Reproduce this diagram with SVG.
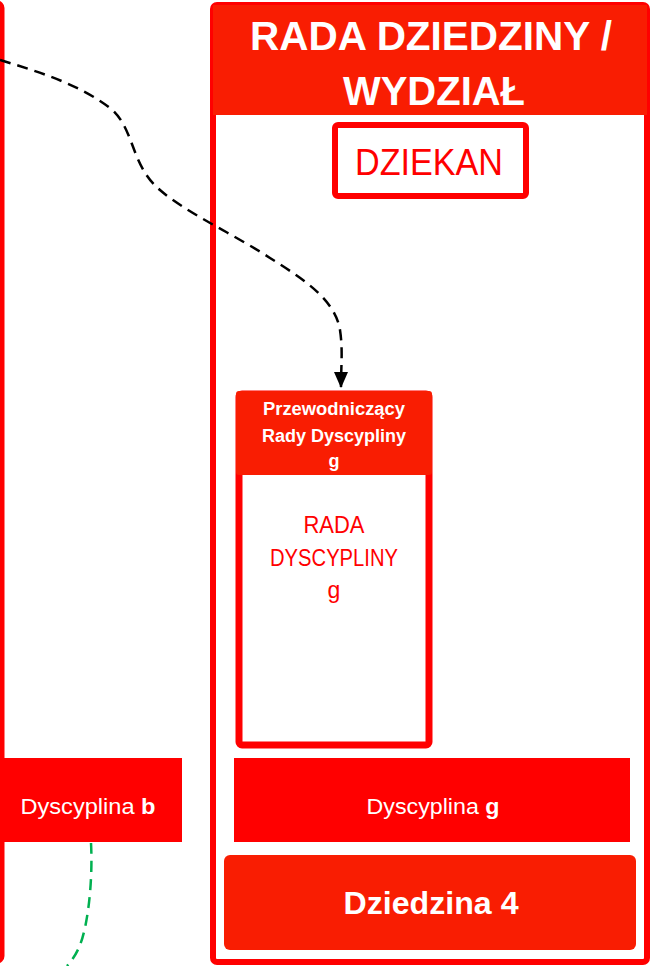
<svg xmlns="http://www.w3.org/2000/svg" width="653" height="966" viewBox="0 0 653 966">
<style>
text{font-family:"Liberation Sans",Arial,sans-serif;text-anchor:middle}
.w{fill:#fff}
.r{fill:#ff0000}
.b{font-weight:bold}
</style>
<defs>
<marker id="ah" markerWidth="16" markerHeight="14" refX="15" refY="7" orient="auto" markerUnits="userSpaceOnUse">
<path d="M0,0 L16,7 L0,14 z" fill="#000"/>
</marker>
</defs>
<rect width="653" height="966" fill="#fff"/>
<g id="left-container">
<rect x="-200" y="3" width="202" height="958" rx="5" fill="none" stroke="#ff0000" stroke-width="5"/>
</g>
<g id="dyscyplina-b">
<rect x="0" y="758" width="182" height="84" fill="#ff0000"/>
<text x="88" y="814" font-size="22" class="w" textLength="135" lengthAdjust="spacingAndGlyphs">Dyscyplina <tspan class="b">b</tspan></text>
</g>
<g id="rada-dziedziny">
<rect x="213" y="5" width="434" height="957" rx="4" fill="#fff" stroke="#ff0000" stroke-width="6"/>
<rect x="213" y="5" width="434" height="110" fill="#f91d02"/>
<text x="431" y="50" font-size="41" class="w b" textLength="362" lengthAdjust="spacingAndGlyphs">RADA DZIEDZINY /</text>
<text x="434" y="105" font-size="41" class="w b" textLength="182" lengthAdjust="spacingAndGlyphs">WYDZIAŁ</text>
</g>
<g id="dziekan">
<rect x="335" y="125" width="191" height="71" rx="3" fill="#fff" stroke="#ff0000" stroke-width="6"/>
<text x="429" y="175" font-size="37" class="r" textLength="148" lengthAdjust="spacingAndGlyphs">DZIEKAN</text>
</g>
<g id="rada-dyscypliny-g">
<rect x="239" y="394" width="190" height="351" rx="3" fill="#fff" stroke="#ff0000" stroke-width="7"/>
<rect x="236" y="391" width="196" height="84" rx="3" fill="#f91d02"/>
<text x="334" y="415" font-size="18" class="w b" textLength="142" lengthAdjust="spacingAndGlyphs">Przewodniczący</text>
<text x="334" y="442" font-size="18" class="w b" textLength="144" lengthAdjust="spacingAndGlyphs">Rady Dyscypliny</text>
<text x="334" y="467" font-size="18" class="w b">g</text>
<text x="334" y="533" font-size="23" class="r" textLength="61" lengthAdjust="spacingAndGlyphs">RADA</text>
<text x="334" y="566" font-size="23" class="r" textLength="128" lengthAdjust="spacingAndGlyphs">DYSCYPLINY</text>
<text x="334" y="598" font-size="23" class="r">g</text>
</g>
<g id="dyscyplina-g">
<rect x="234" y="758" width="396" height="84" fill="#ff0000"/>
<text x="433" y="814" font-size="22" class="w" textLength="133" lengthAdjust="spacingAndGlyphs">Dyscyplina <tspan class="b">g</tspan></text>
</g>
<g id="dziedzina-4">
<rect x="224" y="855" width="412" height="95" rx="6" fill="#f91d02"/>
<text x="431" y="914" font-size="32" class="w b" textLength="175" lengthAdjust="spacingAndGlyphs">Dziedzina 4</text>
</g>
<g id="connectors" fill="none" stroke-width="2.5" stroke-dasharray="11,7">
<path d="M0,60 C40,72 80,85 110,108 C135,128 130,165 160,190 C185,212 235,235 270,258 C305,280 335,300 340,330 C343,350 341,365 341,387" stroke="#000" marker-end="url(#ah)"/>
<path d="M91,843 C93,880 88,925 80,945 C76,955 72,960 67,966" stroke="#00b050"/>
</g>
</svg>
